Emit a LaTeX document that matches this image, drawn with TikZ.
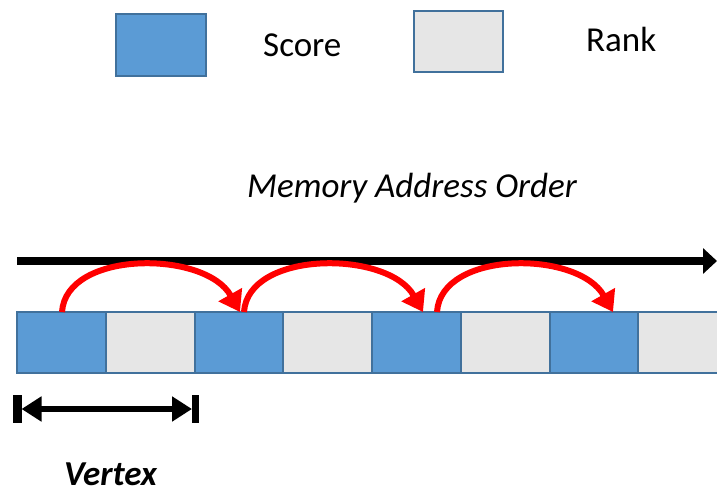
\documentclass[tikz,border=0pt]{standalone}
\usepackage{fontspec}
\setmainfont{Carlito}
\usetikzlibrary{arrows.meta,calc}
\definecolor{scorefill}{HTML}{5B9BD5}
\definecolor{cellline}{HTML}{41719C}
\definecolor{rankfill}{HTML}{E6E6E6}
\definecolor{hopred}{HTML}{FF0000}
\tikzset{
  cell/.style={draw=cellline, line width=2pt, minimum width=88.75pt,
    minimum height=61pt, inner sep=0pt, outer sep=0pt, anchor=north west},
  scorecell/.style={cell, fill=scorefill},
  rankcell/.style={cell, fill=rankfill},
  legendbox/.style={draw=cellline, line width=2pt, inner sep=0pt, outer sep=0pt, anchor=north west},
  bigtext/.style={font=\fontsize{35}{40}\selectfont, inner sep=0pt, anchor=base west},
  hop/.style={draw=hopred, line width=6pt, -{Triangle[length=20pt,width=26pt]}},
}
\begin{document}
\begin{tikzpicture}[x=1pt,y=-1pt]
\useasboundingbox (0,0) rectangle (717,489);
\clip (0,0) rectangle (717,489);

% legend
\node[legendbox, fill=scorefill, minimum width=90pt, minimum height=62pt] (lscore) at (116,14) {};
\node[bigtext] (tscore) at (263,57) {Score};
\node[legendbox, fill=rankfill, minimum width=89pt, minimum height=61pt] (lrank) at (414,11) {};
\node[bigtext] (trank) at (586,52) {Rank};

% axis title and direction
\node[bigtext, font=\fontsize{35}{40}\selectfont\itshape] (order) at (247,197) {Memory Address Order};
\coordinate (axisL) at (17,261);
\coordinate (axisR) at (717,261);
\draw[line width=7.5pt, -{Triangle[length=14pt,width=25pt]}] (axisL) -- (axisR);

% memory cells: alternating score / rank
\node[scorecell] (c1) at (17,312) {};
\node[rankcell]  (c2) at (c1.north east) {};
\node[scorecell] (c3) at (c2.north east) {};
\node[rankcell]  (c4) at (c3.north east) {};
\node[scorecell] (c5) at (c4.north east) {};
\node[rankcell]  (c6) at (c5.north east) {};
\node[scorecell] (c7) at (c6.north east) {};
\node[rankcell]  (c8) at (c7.north east) {};

% hops between consecutive score entries
\coordinate (s1) at (62,312);  \coordinate (e1) at (240,312);
\coordinate (s2) at (244,312); \coordinate (e2) at (423,312);
\coordinate (s3) at (437,312); \coordinate (e3) at (613,312);
\draw[hop] (s1) .. controls (66,250) and (205,250) .. (e1);
\draw[hop] (s2) .. controls (248,250) and (388,250) .. (e2);
\draw[hop] (s3) .. controls (441,250) and (578,250) .. (e3);

% vertex span
\coordinate (vL) at (21.5,409);
\coordinate (vR) at (192,409);
\fill ($(vL)+(-8.5,-14)$) rectangle ($(vL)+(0,14)$);
\fill (vR) ++(0,-14) rectangle ++(7,28);
\draw[line width=6pt, {Triangle[length=20pt,width=24pt]}-{Triangle[length=20pt,width=24pt]}] (vL) -- (vR);
\node[bigtext, text depth=0pt, font=\fontsize{35}{40}\selectfont\bfseries\itshape] (vertex) at (64,485) {Vertex};
\end{tikzpicture}
\end{document}
